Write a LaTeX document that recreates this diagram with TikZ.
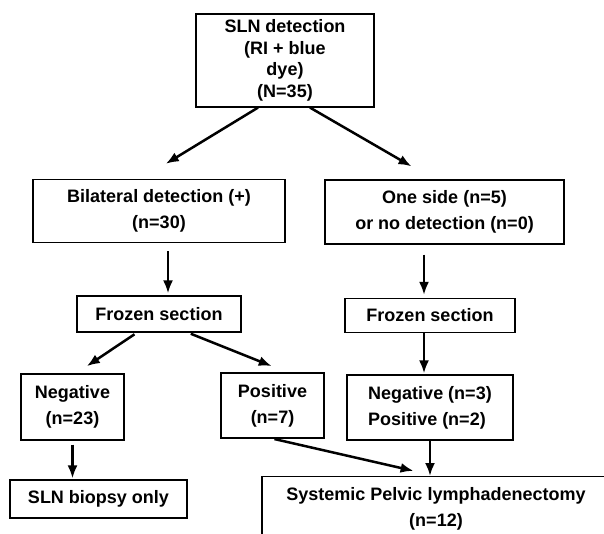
\documentclass[tikz,border=0pt]{standalone}
\usepackage{fontspec}
\setmainfont{Liberation Sans}
\usetikzlibrary{arrows.meta}

\begin{document}
\begin{tikzpicture}[x=1pt,y=-1pt,
    font=\fontsize{18}{26}\selectfont\bfseries,
    box/.style={draw,line width=1.2pt,align=center,inner sep=0pt},
    arr/.style={line width=2.5pt,-{Latex[length=13pt,width=10pt]}}]
  \clip (0,0) rectangle (604,533);
  \node[box,minimum width=178pt,minimum height=93pt,
    font=\fontsize{18}{21.5}\selectfont\bfseries] (detect) at (285,60.5)
    {SLN detection\\(RI + blue\\dye)\\(N=35)};
  \node[box,minimum width=252pt,minimum height=63pt] (bilat) at (159,211) {Bilateral detection (+)\\(n=30)};
  \node[box,minimum width=239pt,minimum height=64pt] (oneside) at (444.5,212) {One side (n=5)\\or no detection (n=0)};
  \node[box,minimum width=164pt,minimum height=36pt] (frozenL) at (159,314) {Frozen section};
  \node[box,minimum width=170pt,minimum height=34pt] (frozenR) at (430,315.5) {Frozen section};
  \node[box,minimum width=103pt,minimum height=66pt] (neg) at (72.5,407) {Negative\\(n=23)};
  \node[box,minimum width=103pt,minimum height=65pt] (pos) at (272.5,405.5) {Positive\\(n=7)};
  \node[box,align=left,minimum width=166pt,minimum height=65pt] (negpos) at (430,407.5) {Negative (n=3)\\Positive (n=2)};
  \node[box,minimum width=177pt,minimum height=38pt] (biopsy) at (98.5,499) {SLN biopsy only};
  \node[box,anchor=north,minimum width=348pt,inner ysep=11pt] (pelvic) at (436,476)
    {Systemic Pelvic lymphadenectomy\\(n=12)};

  \draw[arr,shorten >=29pt] ([xshift=-27pt]detect.south) -- ([xshift=-18pt]bilat.north);
  \draw[arr,shorten >=26pt] ([xshift=25pt]detect.south) -- ([xshift=-10.5pt]oneside.north);
  \draw[arr,shorten <=8pt,shorten >=2pt] ([xshift=9pt]frozenL.north |- bilat.south) -- ([xshift=9pt]frozenL.north);
  \draw[arr,shorten <=10pt,shorten >=3pt] ([xshift=-6pt]frozenR.north |- oneside.south) -- ([xshift=-6pt]frozenR.north);
  \draw[arr,shorten <=3pt,shorten >=13pt] ([xshift=-22pt]frozenL.south) -- ([xshift=3.5pt]neg.north);
  \draw[arr,shorten <=3pt,shorten >=17pt] ([xshift=29pt]frozenL.south) -- ([xshift=15pt]pos.north);
  \draw[arr,shorten >=1pt] ([xshift=-6pt]frozenR.south) -- ([xshift=-6pt]negpos.north);
  \draw[arr,shorten <=4pt,shorten >=1pt] (neg.south) -- (neg.south |- biopsy.north);
  \draw[arr,shorten <=2pt,shorten >=23pt] (pos.south) -- (pelvic.north);
  \draw[arr] (negpos.south) -- (negpos.south |- pelvic.north);
\end{tikzpicture}
\end{document}
